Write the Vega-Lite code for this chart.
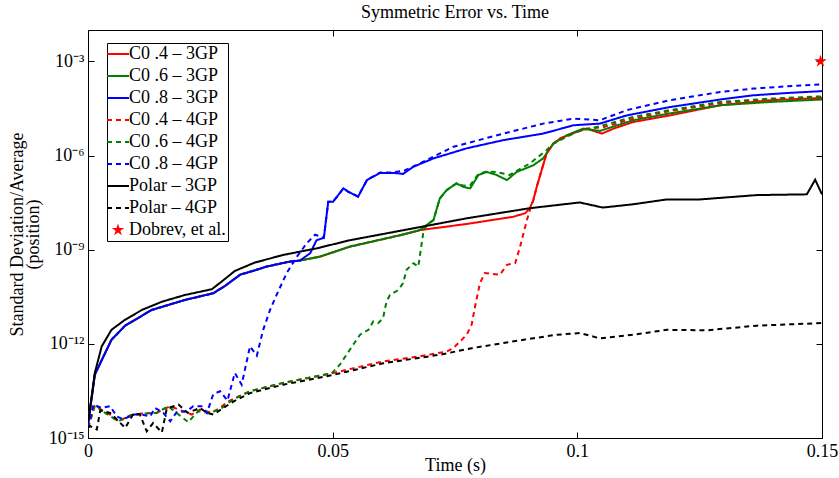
{
"$schema": "https://vega.github.io/schema/vega-lite/v6.json",
"width": 734, "height": 408,
"autosize": {"type": "none"},
"padding": {"left": 88, "top": 30, "right": 17, "bottom": 40},
"background": "white",
"config": {"font": "Liberation Serif", "view": {"stroke": null}},
"title": {"text": "Symmetric Error vs. Time", "font": "Liberation Serif", "fontSize": 18, "fontWeight": "normal", "color": "black", "offset": 8, "frame": "group"},
"data": {"values": [
{"s":"C0 .4 – 3GP","t":0,"v":2.7e-15},{"s":"C0 .4 – 3GP","t":0.0014,"v":1.05e-13},{"s":"C0 .4 – 3GP","t":0.0035,"v":5.1e-13},{"s":"C0 .4 – 3GP","t":0.0048,"v":1.35e-12},{"s":"C0 .4 – 3GP","t":0.0076,"v":3.8e-12},{"s":"C0 .4 – 3GP","t":0.013,"v":1.2e-11},{"s":"C0 .4 – 3GP","t":0.0198,"v":2.5e-11},{"s":"C0 .4 – 3GP","t":0.0256,"v":4.1e-11},{"s":"C0 .4 – 3GP","t":0.028,"v":7.0e-11},{"s":"C0 .4 – 3GP","t":0.0311,"v":1.6e-10},{"s":"C0 .4 – 3GP","t":0.0341,"v":2.2e-10},{"s":"C0 .4 – 3GP","t":0.0365,"v":2.9e-10},{"s":"C0 .4 – 3GP","t":0.0413,"v":4.2e-10},{"s":"C0 .4 – 3GP","t":0.0433,"v":4.5e-10},
{"s":"C0 .4 – 3GP","t":0.0474,"v":6.0e-10},{"s":"C0 .4 – 3GP","t":0.0535,"v":1.25e-9},{"s":"C0 .4 – 3GP","t":0.0638,"v":2.9e-9},{"s":"C0 .4 – 3GP","t":0.0678,"v":4.2e-9},{"s":"C0 .4 – 3GP","t":0.0774,"v":6.6e-9},{"s":"C0 .4 – 3GP","t":0.0869,"v":1.12e-8},{"s":"C0 .4 – 3GP","t":0.0893,"v":1.44e-8},{"s":"C0 .4 – 3GP","t":0.0903,"v":2.1e-8},{"s":"C0 .4 – 3GP","t":0.091,"v":3.8e-8},{"s":"C0 .4 – 3GP","t":0.0917,"v":1.0e-7},{"s":"C0 .4 – 3GP","t":0.0927,"v":3.4e-7},{"s":"C0 .4 – 3GP","t":0.0937,"v":1.16e-6},{"s":"C0 .4 – 3GP","t":0.0951,"v":2.4e-6},{"s":"C0 .4 – 3GP","t":0.0965,"v":3.5e-6},{"s":"C0 .4 – 3GP","t":0.0999,"v":5.7e-6},{"s":"C0 .4 – 3GP","t":0.1019,"v":7.2e-6},{"s":"C0 .4 – 3GP","t":0.105,"v":5.0e-6},{"s":"C0 .4 – 3GP","t":0.1074,"v":7.2e-6},{"s":"C0 .4 – 3GP","t":0.1114,"v":1.17e-5},{"s":"C0 .4 – 3GP","t":0.1189,"v":1.9e-5},{"s":"C0 .4 – 3GP","t":0.1292,"v":4.0e-5},{"s":"C0 .4 – 3GP","t":0.1394,"v":5.8e-5},{"s":"C0 .4 – 3GP","t":0.15,"v":6.8e-5},
{"s":"C0 .6 – 3GP","t":0,"v":2.7e-15},{"s":"C0 .6 – 3GP","t":0.0014,"v":1.05e-13},{"s":"C0 .6 – 3GP","t":0.0035,"v":5.1e-13},{"s":"C0 .6 – 3GP","t":0.0048,"v":1.35e-12},{"s":"C0 .6 – 3GP","t":0.0076,"v":3.8e-12},{"s":"C0 .6 – 3GP","t":0.013,"v":1.2e-11},{"s":"C0 .6 – 3GP","t":0.0198,"v":2.5e-11},{"s":"C0 .6 – 3GP","t":0.0256,"v":4.1e-11},{"s":"C0 .6 – 3GP","t":0.028,"v":7.0e-11},{"s":"C0 .6 – 3GP","t":0.0311,"v":1.6e-10},{"s":"C0 .6 – 3GP","t":0.0341,"v":2.2e-10},{"s":"C0 .6 – 3GP","t":0.0365,"v":2.9e-10},{"s":"C0 .6 – 3GP","t":0.0413,"v":4.2e-10},{"s":"C0 .6 – 3GP","t":0.0433,"v":4.5e-10},
{"s":"C0 .6 – 3GP","t":0.0474,"v":6.0e-10},{"s":"C0 .6 – 3GP","t":0.0535,"v":1.25e-9},{"s":"C0 .6 – 3GP","t":0.0638,"v":2.9e-9},{"s":"C0 .6 – 3GP","t":0.0678,"v":4.2e-9},{"s":"C0 .6 – 3GP","t":0.0692,"v":6.1e-9},{"s":"C0 .6 – 3GP","t":0.0706,"v":8.8e-9},{"s":"C0 .6 – 3GP","t":0.0719,"v":4.3e-8},{"s":"C0 .6 – 3GP","t":0.0733,"v":7.9e-8},{"s":"C0 .6 – 3GP","t":0.0753,"v":1.3e-7},{"s":"C0 .6 – 3GP","t":0.0767,"v":1.0e-7},{"s":"C0 .6 – 3GP","t":0.0781,"v":9.0e-8},{"s":"C0 .6 – 3GP","t":0.0798,"v":2.4e-7},{"s":"C0 .6 – 3GP","t":0.0815,"v":3.0e-7},{"s":"C0 .6 – 3GP","t":0.0835,"v":2.4e-7},{"s":"C0 .6 – 3GP","t":0.0856,"v":1.65e-7},{"s":"C0 .6 – 3GP","t":0.0876,"v":3.0e-7},{"s":"C0 .6 – 3GP","t":0.091,"v":4.9e-7},{"s":"C0 .6 – 3GP","t":0.093,"v":8.1e-7},{"s":"C0 .6 – 3GP","t":0.0951,"v":2.4e-6},{"s":"C0 .6 – 3GP","t":0.0978,"v":4.4e-6},{"s":"C0 .6 – 3GP","t":0.1012,"v":7.2e-6},{"s":"C0 .6 – 3GP","t":0.1046,"v":6.1e-6},{"s":"C0 .6 – 3GP","t":0.1114,"v":1.33e-5},{"s":"C0 .6 – 3GP","t":0.1189,"v":2.2e-5},{"s":"C0 .6 – 3GP","t":0.1292,"v":4.0e-5},{"s":"C0 .6 – 3GP","t":0.1394,"v":5.1e-5},{"s":"C0 .6 – 3GP","t":0.15,"v":6.1e-5},
{"s":"C0 .8 – 3GP","t":0,"v":2.7e-15},{"s":"C0 .8 – 3GP","t":0.0014,"v":1.05e-13},{"s":"C0 .8 – 3GP","t":0.0035,"v":5.1e-13},{"s":"C0 .8 – 3GP","t":0.0048,"v":1.35e-12},{"s":"C0 .8 – 3GP","t":0.0076,"v":3.8e-12},{"s":"C0 .8 – 3GP","t":0.013,"v":1.2e-11},{"s":"C0 .8 – 3GP","t":0.0198,"v":2.5e-11},{"s":"C0 .8 – 3GP","t":0.0256,"v":4.1e-11},{"s":"C0 .8 – 3GP","t":0.028,"v":7.0e-11},{"s":"C0 .8 – 3GP","t":0.0311,"v":1.6e-10},{"s":"C0 .8 – 3GP","t":0.0341,"v":2.2e-10},{"s":"C0 .8 – 3GP","t":0.0365,"v":2.9e-10},{"s":"C0 .8 – 3GP","t":0.0413,"v":4.2e-10},{"s":"C0 .8 – 3GP","t":0.0433,"v":4.5e-10},
{"s":"C0 .8 – 3GP","t":0.0454,"v":7.7e-10},{"s":"C0 .8 – 3GP","t":0.0467,"v":2.0e-9},{"s":"C0 .8 – 3GP","t":0.0482,"v":2.4e-9},{"s":"C0 .8 – 3GP","t":0.0491,"v":3.4e-8},{"s":"C0 .8 – 3GP","t":0.0501,"v":3.4e-8},{"s":"C0 .8 – 3GP","t":0.0522,"v":9.0e-8},{"s":"C0 .8 – 3GP","t":0.0532,"v":7.0e-8},{"s":"C0 .8 – 3GP","t":0.0552,"v":4.9e-8},{"s":"C0 .8 – 3GP","t":0.057,"v":1.65e-7},{"s":"C0 .8 – 3GP","t":0.0597,"v":2.8e-7},{"s":"C0 .8 – 3GP","t":0.0624,"v":2.8e-7},{"s":"C0 .8 – 3GP","t":0.0644,"v":2.6e-7},{"s":"C0 .8 – 3GP","t":0.0665,"v":4.4e-7},{"s":"C0 .8 – 3GP","t":0.0706,"v":8.1e-7},{"s":"C0 .8 – 3GP","t":0.0774,"v":1.7e-6},{"s":"C0 .8 – 3GP","t":0.0849,"v":3.1e-6},{"s":"C0 .8 – 3GP","t":0.093,"v":5.0e-6},{"s":"C0 .8 – 3GP","t":0.0992,"v":9.2e-6},{"s":"C0 .8 – 3GP","t":0.1046,"v":1.04e-5},{"s":"C0 .8 – 3GP","t":0.1101,"v":1.9e-5},{"s":"C0 .8 – 3GP","t":0.1189,"v":3.5e-5},{"s":"C0 .8 – 3GP","t":0.1292,"v":6.1e-5},{"s":"C0 .8 – 3GP","t":0.136,"v":8.3e-5},{"s":"C0 .8 – 3GP","t":0.1428,"v":9.8e-5},{"s":"C0 .8 – 3GP","t":0.15,"v":1.13e-4},
{"s":"C0 .4 – 4GP","t":0,"v":2.1e-15},{"s":"C0 .4 – 4GP","t":0.0014,"v":1.03e-14},{"s":"C0 .4 – 4GP","t":0.0045,"v":5.6e-15},{"s":"C0 .4 – 4GP","t":0.0062,"v":3.4e-15},{"s":"C0 .4 – 4GP","t":0.0086,"v":5.2e-15},{"s":"C0 .4 – 4GP","t":0.011,"v":6.0e-15},{"s":"C0 .4 – 4GP","t":0.014,"v":6.3e-15},{"s":"C0 .4 – 4GP","t":0.0168,"v":1.03e-14},{"s":"C0 .4 – 4GP","t":0.0185,"v":8.1e-15},{"s":"C0 .4 – 4GP","t":0.0212,"v":5.6e-15},{"s":"C0 .4 – 4GP","t":0.0229,"v":8.1e-15},{"s":"C0 .4 – 4GP","t":0.0253,"v":6.3e-15},{"s":"C0 .4 – 4GP","t":0.027,"v":9.3e-15},{"s":"C0 .4 – 4GP","t":0.0287,"v":1.48e-14},{"s":"C0 .4 – 4GP","t":0.0331,"v":3.1e-14},{"s":"C0 .4 – 4GP","t":0.0399,"v":5.7e-14},{"s":"C0 .4 – 4GP","t":0.0498,"v":1.15e-13},{"s":"C0 .4 – 4GP","t":0.0603,"v":2.76e-13},{"s":"C0 .4 – 4GP","t":0.0678,"v":4.0e-13},{"s":"C0 .4 – 4GP","t":0.0733,"v":5.7e-13},{"s":"C0 .4 – 4GP","t":0.0747,"v":7.4e-13},{"s":"C0 .4 – 4GP","t":0.0774,"v":1.95e-12},{"s":"C0 .4 – 4GP","t":0.0784,"v":4.1e-12},{"s":"C0 .4 – 4GP","t":0.0791,"v":1.55e-11},{"s":"C0 .4 – 4GP","t":0.0801,"v":8.6e-11},{"s":"C0 .4 – 4GP","t":0.0811,"v":1.8e-10},{"s":"C0 .4 – 4GP","t":0.0842,"v":1.6e-10},{"s":"C0 .4 – 4GP","t":0.0856,"v":3.3e-10},{"s":"C0 .4 – 4GP","t":0.0873,"v":3.7e-10},{"s":"C0 .4 – 4GP","t":0.0883,"v":1.25e-9},{"s":"C0 .4 – 4GP","t":0.0897,"v":8.8e-9},{"s":"C0 .4 – 4GP","t":0.0903,"v":1.83e-8},{"s":"C0 .4 – 4GP","t":0.091,"v":3.8e-8},{"s":"C0 .4 – 4GP","t":0.0917,"v":1.0e-7},{"s":"C0 .4 – 4GP","t":0.0927,"v":3.4e-7},{"s":"C0 .4 – 4GP","t":0.0937,"v":1.16e-6},{"s":"C0 .4 – 4GP","t":0.0951,"v":2.4e-6},{"s":"C0 .4 – 4GP","t":0.0965,"v":3.5e-6},{"s":"C0 .4 – 4GP","t":0.0999,"v":5.7e-6},{"s":"C0 .4 – 4GP","t":0.1019,"v":7.2e-6},{"s":"C0 .4 – 4GP","t":0.1053,"v":8.0e-6},{"s":"C0 .4 – 4GP","t":0.1114,"v":1.49e-5},{"s":"C0 .4 – 4GP","t":0.1189,"v":2.6e-5},{"s":"C0 .4 – 4GP","t":0.1292,"v":4.6e-5},{"s":"C0 .4 – 4GP","t":0.1394,"v":6.2e-5},{"s":"C0 .4 – 4GP","t":0.15,"v":7.4e-5},
{"s":"C0 .6 – 4GP","t":0,"v":2.1e-15},{"s":"C0 .6 – 4GP","t":0.0014,"v":1.16e-14},{"s":"C0 .6 – 4GP","t":0.0035,"v":6.3e-15},{"s":"C0 .6 – 4GP","t":0.0062,"v":3.4e-15},{"s":"C0 .6 – 4GP","t":0.0086,"v":5.2e-15},{"s":"C0 .6 – 4GP","t":0.011,"v":6.0e-15},{"s":"C0 .6 – 4GP","t":0.014,"v":6.3e-15},{"s":"C0 .6 – 4GP","t":0.0164,"v":1.03e-14},{"s":"C0 .6 – 4GP","t":0.0185,"v":5.6e-15},{"s":"C0 .6 – 4GP","t":0.0205,"v":3.2e-15},{"s":"C0 .6 – 4GP","t":0.0225,"v":7.1e-15},{"s":"C0 .6 – 4GP","t":0.0249,"v":6.3e-15},{"s":"C0 .6 – 4GP","t":0.0273,"v":9.0e-15},{"s":"C0 .6 – 4GP","t":0.0297,"v":1.7e-14},{"s":"C0 .6 – 4GP","t":0.0331,"v":3.1e-14},{"s":"C0 .6 – 4GP","t":0.0399,"v":5.7e-14},{"s":"C0 .6 – 4GP","t":0.0498,"v":1.15e-13},{"s":"C0 .6 – 4GP","t":0.0515,"v":2.2e-13},{"s":"C0 .6 – 4GP","t":0.0535,"v":6.5e-13},{"s":"C0 .6 – 4GP","t":0.0556,"v":1.95e-12},{"s":"C0 .6 – 4GP","t":0.0573,"v":2.8e-12},{"s":"C0 .6 – 4GP","t":0.0583,"v":5.2e-12},{"s":"C0 .6 – 4GP","t":0.0593,"v":4.6e-12},{"s":"C0 .6 – 4GP","t":0.0603,"v":6.6e-12},{"s":"C0 .6 – 4GP","t":0.061,"v":2.2e-11},{"s":"C0 .6 – 4GP","t":0.0617,"v":3.6e-11},{"s":"C0 .6 – 4GP","t":0.0634,"v":5.2e-11},{"s":"C0 .6 – 4GP","t":0.0644,"v":8.6e-11},{"s":"C0 .6 – 4GP","t":0.0651,"v":2.3e-10},{"s":"C0 .6 – 4GP","t":0.0665,"v":3.7e-10},{"s":"C0 .6 – 4GP","t":0.0675,"v":2.9e-10},{"s":"C0 .6 – 4GP","t":0.0685,"v":3.3e-9},{"s":"C0 .6 – 4GP","t":0.0692,"v":6.1e-9},{"s":"C0 .6 – 4GP","t":0.0706,"v":8.8e-9},{"s":"C0 .6 – 4GP","t":0.0719,"v":4.3e-8},{"s":"C0 .6 – 4GP","t":0.0733,"v":7.9e-8},{"s":"C0 .6 – 4GP","t":0.0753,"v":1.3e-7},{"s":"C0 .6 – 4GP","t":0.0767,"v":1.1e-7},{"s":"C0 .6 – 4GP","t":0.0781,"v":1.14e-7},{"s":"C0 .6 – 4GP","t":0.0798,"v":2.6e-7},{"s":"C0 .6 – 4GP","t":0.0815,"v":3.1e-7},{"s":"C0 .6 – 4GP","t":0.0835,"v":2.96e-7},{"s":"C0 .6 – 4GP","t":0.0862,"v":2.4e-7},{"s":"C0 .6 – 4GP","t":0.0903,"v":5.6e-7},{"s":"C0 .6 – 4GP","t":0.0937,"v":1.48e-6},{"s":"C0 .6 – 4GP","t":0.0951,"v":2.4e-6},{"s":"C0 .6 – 4GP","t":0.0999,"v":5.7e-6},{"s":"C0 .6 – 4GP","t":0.1053,"v":9.2e-6},{"s":"C0 .6 – 4GP","t":0.1114,"v":1.7e-5},{"s":"C0 .6 – 4GP","t":0.1189,"v":2.8e-5},{"s":"C0 .6 – 4GP","t":0.1292,"v":5.1e-5},{"s":"C0 .6 – 4GP","t":0.1394,"v":6.5e-5},{"s":"C0 .6 – 4GP","t":0.15,"v":7.7e-5},
{"s":"C0 .8 – 4GP","t":0,"v":2.1e-15},{"s":"C0 .8 – 4GP","t":0.0011,"v":1.16e-14},{"s":"C0 .8 – 4GP","t":0.0028,"v":9.1e-15},{"s":"C0 .8 – 4GP","t":0.0045,"v":1.03e-14},{"s":"C0 .8 – 4GP","t":0.0059,"v":4.9e-15},{"s":"C0 .8 – 4GP","t":0.0072,"v":3.9e-15},{"s":"C0 .8 – 4GP","t":0.0093,"v":5.6e-15},{"s":"C0 .8 – 4GP","t":0.011,"v":5.6e-15},{"s":"C0 .8 – 4GP","t":0.0127,"v":4.9e-15},{"s":"C0 .8 – 4GP","t":0.0137,"v":9.1e-15},{"s":"C0 .8 – 4GP","t":0.0154,"v":6.3e-15},{"s":"C0 .8 – 4GP","t":0.0168,"v":3.4e-15},{"s":"C0 .8 – 4GP","t":0.0181,"v":6.6e-15},{"s":"C0 .8 – 4GP","t":0.0202,"v":7.1e-15},{"s":"C0 .8 – 4GP","t":0.0215,"v":1.03e-14},{"s":"C0 .8 – 4GP","t":0.0232,"v":1.03e-14},{"s":"C0 .8 – 4GP","t":0.0243,"v":6.3e-15},{"s":"C0 .8 – 4GP","t":0.0256,"v":2.5e-14},{"s":"C0 .8 – 4GP","t":0.027,"v":3.1e-14},{"s":"C0 .8 – 4GP","t":0.0285,"v":1.56e-14},{"s":"C0 .8 – 4GP","t":0.03,"v":1.18e-13},{"s":"C0 .8 – 4GP","t":0.0314,"v":5.0e-14},{"s":"C0 .8 – 4GP","t":0.0331,"v":8.3e-13},{"s":"C0 .8 – 4GP","t":0.0345,"v":4.2e-13},{"s":"C0 .8 – 4GP","t":0.0358,"v":2.8e-12},{"s":"C0 .8 – 4GP","t":0.0372,"v":1.2e-11},{"s":"C0 .8 – 4GP","t":0.0386,"v":3.8e-11},{"s":"C0 .8 – 4GP","t":0.0406,"v":1.8e-10},{"s":"C0 .8 – 4GP","t":0.0427,"v":6.0e-10},{"s":"C0 .8 – 4GP","t":0.0447,"v":1.6e-9},{"s":"C0 .8 – 4GP","t":0.0464,"v":3.0e-9},{"s":"C0 .8 – 4GP","t":0.0474,"v":2.7e-9},{"s":"C0 .8 – 4GP","t":0.0482,"v":2.4e-9},{"s":"C0 .8 – 4GP","t":0.0491,"v":3.4e-8},{"s":"C0 .8 – 4GP","t":0.0501,"v":3.4e-8},{"s":"C0 .8 – 4GP","t":0.0522,"v":9.0e-8},{"s":"C0 .8 – 4GP","t":0.0532,"v":7.0e-8},{"s":"C0 .8 – 4GP","t":0.0552,"v":4.9e-8},{"s":"C0 .8 – 4GP","t":0.057,"v":1.65e-7},{"s":"C0 .8 – 4GP","t":0.0597,"v":2.9e-7},{"s":"C0 .8 – 4GP","t":0.0624,"v":2.9e-7},{"s":"C0 .8 – 4GP","t":0.0648,"v":3.4e-7},{"s":"C0 .8 – 4GP","t":0.0678,"v":5.6e-7},{"s":"C0 .8 – 4GP","t":0.0747,"v":1.9e-6},{"s":"C0 .8 – 4GP","t":0.0849,"v":5.0e-6},{"s":"C0 .8 – 4GP","t":0.093,"v":1.04e-5},{"s":"C0 .8 – 4GP","t":0.0992,"v":1.5e-5},{"s":"C0 .8 – 4GP","t":0.1046,"v":1.33e-5},{"s":"C0 .8 – 4GP","t":0.1101,"v":2.8e-5},{"s":"C0 .8 – 4GP","t":0.1189,"v":5.8e-5},{"s":"C0 .8 – 4GP","t":0.1292,"v":1.06e-4},{"s":"C0 .8 – 4GP","t":0.136,"v":1.36e-4},{"s":"C0 .8 – 4GP","t":0.1428,"v":1.6e-4},{"s":"C0 .8 – 4GP","t":0.15,"v":1.85e-4},
{"s":"Polar – 3GP","t":0,"v":3.0e-15},{"s":"Polar – 3GP","t":0.0014,"v":1.2e-13},{"s":"Polar – 3GP","t":0.0028,"v":8.3e-13},{"s":"Polar – 3GP","t":0.0048,"v":2.8e-12},{"s":"Polar – 3GP","t":0.0076,"v":5.9e-12},{"s":"Polar – 3GP","t":0.011,"v":1.2e-11},{"s":"Polar – 3GP","t":0.0151,"v":2.2e-11},{"s":"Polar – 3GP","t":0.0198,"v":3.6e-11},{"s":"Polar – 3GP","t":0.0253,"v":5.5e-11},{"s":"Polar – 3GP","t":0.0273,"v":9.6e-11},{"s":"Polar – 3GP","t":0.03,"v":2.1e-10},{"s":"Polar – 3GP","t":0.0341,"v":3.9e-10},{"s":"Polar – 3GP","t":0.0399,"v":6.8e-10},{"s":"Polar – 3GP","t":0.0467,"v":1.1e-9},{"s":"Polar – 3GP","t":0.0535,"v":2.0e-9},{"s":"Polar – 3GP","t":0.0638,"v":4.0e-9},{"s":"Polar – 3GP","t":0.0774,"v":1.0e-8},{"s":"Polar – 3GP","t":0.0903,"v":2.1e-8},{"s":"Polar – 3GP","t":0.1005,"v":3.2e-8},{"s":"Polar – 3GP","t":0.1052,"v":2.2e-8},{"s":"Polar – 3GP","t":0.1114,"v":2.8e-8},{"s":"Polar – 3GP","t":0.1183,"v":4.0e-8},{"s":"Polar – 3GP","t":0.1251,"v":4.0e-8},{"s":"Polar – 3GP","t":0.1367,"v":5.5e-8},{"s":"Polar – 3GP","t":0.1469,"v":5.8e-8},{"s":"Polar – 3GP","t":0.1486,"v":1.7e-7},{"s":"Polar – 3GP","t":0.15,"v":5.8e-8},
{"s":"Polar – 4GP","t":0,"v":2.1e-15},{"s":"Polar – 4GP","t":0.0004,"v":2.4e-15},{"s":"Polar – 4GP","t":0.0018,"v":1.86e-15},{"s":"Polar – 4GP","t":0.0025,"v":7.5e-15},{"s":"Polar – 4GP","t":0.0045,"v":6.3e-15},{"s":"Polar – 4GP","t":0.0059,"v":3.9e-15},{"s":"Polar – 4GP","t":0.0076,"v":2.1e-15},{"s":"Polar – 4GP","t":0.0093,"v":6.0e-15},{"s":"Polar – 4GP","t":0.0106,"v":5.6e-15},{"s":"Polar – 4GP","t":0.012,"v":1.64e-15},{"s":"Polar – 4GP","t":0.0133,"v":3.0e-15},{"s":"Polar – 4GP","t":0.0151,"v":1.5e-15},{"s":"Polar – 4GP","t":0.0161,"v":8.7e-15},{"s":"Polar – 4GP","t":0.0185,"v":1.16e-14},{"s":"Polar – 4GP","t":0.0204,"v":6.3e-15},{"s":"Polar – 4GP","t":0.0229,"v":9.1e-15},{"s":"Polar – 4GP","t":0.0243,"v":6.3e-15},{"s":"Polar – 4GP","t":0.0256,"v":5.6e-15},{"s":"Polar – 4GP","t":0.0297,"v":1.45e-14},{"s":"Polar – 4GP","t":0.0331,"v":2.7e-14},{"s":"Polar – 4GP","t":0.0399,"v":5.0e-14},{"s":"Polar – 4GP","t":0.0498,"v":1.0e-13},{"s":"Polar – 4GP","t":0.0603,"v":2.4e-13},{"s":"Polar – 4GP","t":0.0719,"v":4.5e-13},{"s":"Polar – 4GP","t":0.0787,"v":7.4e-13},{"s":"Polar – 4GP","t":0.089,"v":1.35e-12},{"s":"Polar – 4GP","t":0.0958,"v":1.95e-12},{"s":"Polar – 4GP","t":0.1005,"v":2.2e-12},{"s":"Polar – 4GP","t":0.1046,"v":1.5e-12},{"s":"Polar – 4GP","t":0.1114,"v":1.95e-12},{"s":"Polar – 4GP","t":0.1183,"v":2.8e-12},{"s":"Polar – 4GP","t":0.1264,"v":2.7e-12},{"s":"Polar – 4GP","t":0.1367,"v":3.8e-12},{"s":"Polar – 4GP","t":0.15,"v":4.6e-12},
{"s":"Dobrev, et al.","t":0.1497,"v":1.0e-3}
]},
"layer": [
{
"transform": [{"filter": "datum.s != 'Dobrev, et al.'"}],
"mark": {"type": "line", "strokeWidth": 2, "clip": true},
"encoding": {
"x": {"field": "t", "type": "quantitative", "scale": {"domain": [0, 0.15], "nice": false, "zero": false},
 "axis": {"values": [0, 0.05, 0.1, 0.15], "labelExpr": "datum.value < 0.01 ? '0' : datum.value < 0.07 ? '0.05' : datum.value < 0.12 ? '0.1' : '0.15'", "title": "Time (s)", "grid": false, "tickSize": -6, "labelPadding": 10, "labelFlush": false, "labelOverlap": false, "labelBound": false, "labelLimit": 0, "labelFont": "Liberation Serif", "labelFontSize": 18, "labelColor": "black", "titleFont": "Liberation Serif", "titleFontSize": 18, "titleFontWeight": "normal", "titleColor": "black", "titlePadding": -4, "domainColor": "black", "tickColor": "black"}},
"y": {"field": "v", "type": "quantitative", "scale": {"type": "log", "domain": [1e-15, 1e-2], "nice": false},
 "axis": {"values": [1e-15, 1e-12, 1e-9, 1e-6, 1e-3], "labelExpr": "datum.value < 1e-14 ? '10⁻¹⁵' : datum.value < 1e-11 ? '10⁻¹²' : datum.value < 1e-8 ? '10⁻⁹' : datum.value < 1e-5 ? '10⁻⁶' : '10⁻³'", "title": ["Standard Deviation/Average", "(position)"], "grid": false, "tickSize": -6, "labelPadding": 10, "labelFlush": false, "labelOverlap": false, "labelFont": "Liberation Serif", "labelFontSize": 18, "labelColor": "black", "titleFont": "Liberation Serif", "titleFontSize": 18, "titleFontWeight": "normal", "titleColor": "black", "titleLineHeight": 16, "titlePadding": 6, "domainColor": "black", "tickColor": "black"}},
"color": {"field": "s", "type": "nominal",
 "scale": {"domain": ["C0 .4 – 3GP", "C0 .6 – 3GP", "C0 .8 – 3GP", "C0 .4 – 4GP", "C0 .6 – 4GP", "C0 .8 – 4GP", "Polar – 3GP", "Polar – 4GP", "Dobrev, et al."],
  "range": ["#ff0000", "#008000", "#0000ff", "#ff0000", "#008000", "#0000ff", "#000000", "#000000", "#ff0000"]},
 "legend": {"title": null, "orient": "none", "legendX": 19, "legendY": 13, "strokeColor": "black", "fillColor": "white", "padding": 2, "labelFont": "Liberation Serif", "labelFontSize": 18, "labelColor": "black", "labelLimit": 300, "labelOffset": 2, "symbolSize": 484, "symbolStrokeWidth": 2, "symbolType": "stroke", "rowPadding": 4,
  "encode": {"symbols": {"update": {"shape": {"signal": "datum.value == 'Dobrev, et al.' ? 'M0,-1L0.2245,-0.309L0.951,-0.309L0.363,0.118L0.588,0.809L0,0.382L-0.588,0.809L-0.363,0.118L-0.951,-0.309L-0.2245,-0.309Z' : 'stroke'"}, "fill": {"signal": "datum.value == 'Dobrev, et al.' ? '#ff0000' : 'transparent'"}, "size": {"signal": "datum.value == 'Dobrev, et al.' ? 170 : 484"}, "strokeWidth": {"signal": "datum.value == 'Dobrev, et al.' ? 0 : 2"}}}}}},
"strokeDash": {"field": "s", "type": "nominal",
 "scale": {"domain": ["C0 .4 – 3GP", "C0 .6 – 3GP", "C0 .8 – 3GP", "C0 .4 – 4GP", "C0 .6 – 4GP", "C0 .8 – 4GP", "Polar – 3GP", "Polar – 4GP", "Dobrev, et al."],
  "range": [[1, 0], [1, 0], [1, 0], [5, 4], [5, 4], [5, 4], [1, 0], [5, 4], [1, 0]]},
 "legend": {"title": null, "orient": "none", "legendX": 19, "legendY": 13}}
}
},
{
"transform": [{"filter": "datum.s == 'Dobrev, et al.'"}],
"mark": {"type": "point", "shape": "M0,-1L0.2245,-0.309L0.951,-0.309L0.363,0.118L0.588,0.809L0,0.382L-0.588,0.809L-0.363,0.118L-0.951,-0.309L-0.2245,-0.309Z", "filled": true, "size": 170, "opacity": 1},
"encoding": {
"x": {"field": "t", "type": "quantitative", "axis": {"orient": "top", "values": [0, 0.05, 0.1, 0.15], "labels": false, "title": null, "grid": false, "tickSize": -6, "domainColor": "black", "tickColor": "black"}},
"y": {"field": "v", "type": "quantitative", "axis": {"orient": "right", "values": [1e-15, 1e-12, 1e-9, 1e-6, 1e-3], "labels": false, "title": null, "grid": false, "tickSize": -6, "domainColor": "black", "tickColor": "black"}},
"color": {"field": "s", "type": "nominal", "legend": null}
}
}
],
"resolve": {"axis": {"x": "independent", "y": "independent"}}
}
